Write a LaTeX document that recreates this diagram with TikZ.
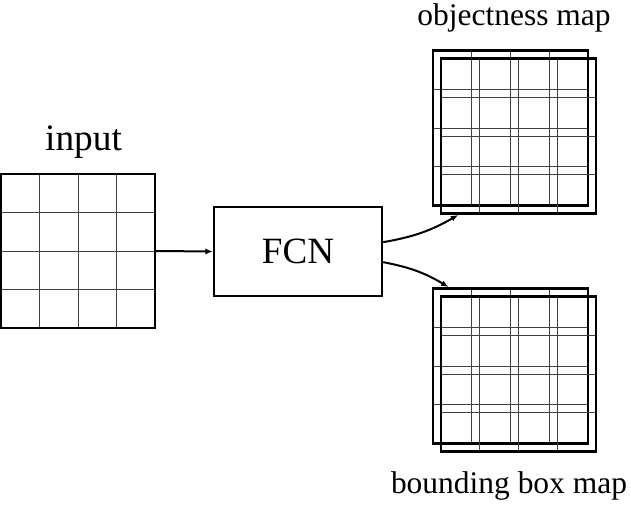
\documentclass[tikz,border=0pt]{standalone}
\usepackage{fontspec}
\setmainfont{Liberation Serif}
\usetikzlibrary{arrows.meta,positioning,calc}

\begin{document}
\begin{tikzpicture}[
  x=0.75pt,y=-0.75pt,
  gridln/.style={line width=0.6pt,black!75},
  gridsq/.style={draw,line width=1.8pt,minimum size=115.5pt,inner sep=0pt,
    path picture={
      \foreach \k in {1,2,3}{
        \draw[gridln] ($(path picture bounding box.south west)!\k/4!(path picture bounding box.south east)$)
          -- ($(path picture bounding box.north west)!\k/4!(path picture bounding box.north east)$);
        \draw[gridln] ($(path picture bounding box.south west)!\k/4!(path picture bounding box.north west)$)
          -- ($(path picture bounding box.south east)!\k/4!(path picture bounding box.north east)$);
      }}},
  mapsq/.style={gridsq,line width=2.2pt,minimum size=116.25pt},
  netbox/.style={draw,line width=1.8pt,minimum width=126pt,minimum height=66.75pt,
                 inner sep=0pt,font=\fontsize{27.8}{30}\selectfont},
  biglbl/.style={anchor=base,inner sep=0pt,font=\fontsize{28}{30}\selectfont},
  maplbl/.style={anchor=base,inner sep=0pt,font=\fontsize{23.6}{26}\selectfont},
  arr/.style={-{Latex[length=5.5pt,width=4.5pt]},line width=1.5pt}
]
\useasboundingbox (0,0) rectangle (631,507);

% input grid and the network
\node[gridsq] (input) at (78,251) {};
\node[biglbl] (inlbl) at (83.5,150) {input};
\node[netbox] (fcn) at (298,251.5) {FCN};

% output maps (two stacked grids each)
\node[mapsq] (objb) at (510.5,128) {};
\node[mapsq] (objf) at (518.5,136) {};
\node[mapsq] (boxb) at (510.5,366) {};
\node[mapsq] (boxf) at (518.5,374) {};
\node[maplbl] (objlbl) at (514,25) {objectness map};
\node[maplbl] (boxlbl) at (509,493) {bounding box map};

\draw[arr] (input.east) -- (fcn.west);
\draw[arr] ([yshift=7pt]fcn.east) to[bend right=10] ([xshift=14pt]objf.south west);
\draw[arr] ([yshift=-8pt]fcn.east) to[bend left=10] ([xshift=12.75pt]boxb.north west);
\end{tikzpicture}
\end{document}
